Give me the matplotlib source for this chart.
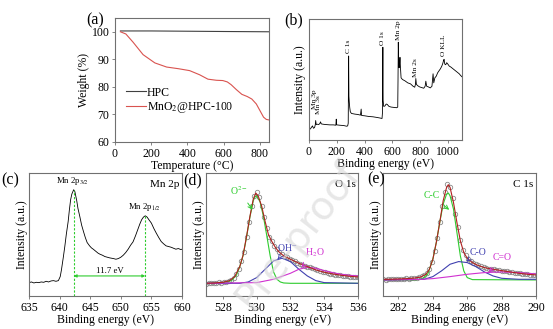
import matplotlib.pyplot as plt

plt.rcParams['font.family'] = ['Liberation Serif', 'DejaVu Serif']
plt.rcParams['mathtext.fontset'] = 'stix'
plt.rcParams['axes.edgecolor'] = '#707070'
plt.rcParams['axes.linewidth'] = 0.8
plt.rcParams['xtick.direction'] = 'out'
plt.rcParams['ytick.direction'] = 'out'
plt.rcParams['xtick.major.size'] = 2.5
plt.rcParams['ytick.major.size'] = 2.5
plt.rcParams['xtick.major.width'] = 0.6
plt.rcParams['ytick.major.width'] = 0.6
plt.rcParams['xtick.major.pad'] = 1.5
plt.rcParams['ytick.major.pad'] = 1.5

FS = 8.5                                            # tick / axis label size

# ---- (a) TGA ------------------------------------------------------------
tga_T   = [30, 60, 100, 155, 220, 285, 350, 412, 467, 513, 560, 595, 620, 641,
           670, 700, 730, 755, 780, 800, 820, 835, 850]
tga_mno = [100.0, 99.2, 96.2, 91.7, 88.7, 87.2, 86.6, 85.9, 84.4, 82.8, 82.4,
           82.3, 81.8, 80.8, 79.0, 77.3, 76.5, 75.6, 73.8, 71.4, 69.0, 68.2, 68.0]
tga_hpc_T = [30, 200, 400, 600, 850]
tga_hpc   = [100.3, 100.3, 100.2, 100.1, 100.0]

# ---- (b) survey spectrum -----------------------------------------------
sv_E = [0, 10, 18, 25, 32, 40, 45, 48, 52, 60, 70, 78, 83, 88, 100, 120, 150,
        175, 193, 196, 199, 220, 250, 270, 278, 282, 285, 287, 290, 293, 297,
        305, 330, 350, 370, 375, 378, 400, 430, 460, 490, 515, 525, 528, 531,
        533, 537, 545, 555, 562, 575, 590, 610, 630, 638, 640, 642, 644, 648,
        651, 654, 657, 662, 672, 690, 710, 730, 748, 760, 765, 768, 772, 780,
        795, 810, 825, 835, 840, 846, 858, 872, 884, 892, 897, 905, 915, 925,
        935, 945, 955, 962, 967, 971, 976, 983, 990, 998, 1008, 1020, 1035,
        1050, 1065, 1080, 1090, 1100]
sv_I = [32, 33, 38, 42, 35, 37, 45, 58, 46, 47, 46, 49, 54, 48, 47, 46, 45,
        45, 44, 62, 45, 44, 43, 41, 42, 50, 250, 130, 110, 96, 84,
        79, 77, 76, 74, 92, 73, 72, 70, 69, 67, 65, 64, 80, 276,
        118, 100, 101, 107, 106, 100, 98, 97, 96, 98, 180, 291, 240, 215,
        225, 246, 220, 185, 180, 176, 170, 167, 160, 157, 165, 183, 166, 162,
        158, 156, 154, 160, 175, 160, 158, 155, 160, 197, 170, 185, 190, 200,
        206, 212, 220, 228, 236, 240, 226, 224, 230, 226, 220, 217, 212,
        207, 202, 197, 192, 188]
sv_lbl   = ['Mn 3p', 'Mn 3s', 'C 1s', 'O 1s', 'Mn 2p', 'Mn 2s', 'O KLL']
sv_lbl_E = [36, 68, 281, 530, 640, 768, 966]
sv_lbl_I = [92, 76, 258, 282, 297, 188, 250]

# ---- (c) Mn 2p ------------------------------------------------------------
mn_E = [635.0, 635.4, 635.8, 636.2, 636.6, 637.0, 637.4, 637.8, 638.2, 638.6,
        639.0, 639.4, 639.8, 640.1, 640.3, 640.6, 640.85, 641.1, 641.4, 641.6,
        641.8, 642.0, 642.3, 642.5, 642.8, 643.0, 643.3, 643.6, 643.9, 644.2,
        644.5, 644.9, 645.2, 645.5, 645.9, 646.3, 646.6, 647.0, 647.4, 647.8,
        648.2, 648.5, 648.8, 649.2, 649.6, 650.0, 650.4, 650.8, 651.2, 651.6,
        652.0, 652.4, 652.8, 653.1, 653.4, 653.7, 654.0, 654.3, 654.6, 655.0,
        655.4, 655.8, 656.2, 656.6, 657.0, 657.4, 657.8, 658.2, 658.6, 659.0,
        659.4, 659.8, 660.0]
mn_I = [40, 42, 39, 41, 40, 42, 41, 44, 42, 45, 46, 44, 46, 58, 78, 115, 148,
        185, 223, 258, 288, 305, 318, 312, 285, 262, 238, 212, 193, 175, 160,
        150, 144, 140, 134, 128, 125, 122, 118, 116, 114, 113, 112, 110, 112,
        116, 122, 130, 140, 152, 162, 180, 200, 215, 228, 236, 240, 236, 228,
        218, 202, 188, 175, 163, 156, 150, 148, 146, 143, 140, 142, 139, 140]
mn_peaks = [642.3, 654.0]
mn_peak_I = [318, 240]
mn_split = '11.7 eV'

# ---- (d) O 1s -------------------------------------------------------------
o_E = [527.0, 527.15, 527.3, 527.45, 527.6, 527.75, 527.9, 528.05, 528.2, 528.35,
       528.5, 528.65, 528.8, 528.95, 529.1, 529.25, 529.4, 529.55, 529.7, 529.85,
       530.0, 530.15, 530.3, 530.45, 530.6, 530.75, 530.9, 531.05, 531.2, 531.35,
       531.5, 531.65, 531.8, 531.95, 532.1, 532.25, 532.4, 532.55, 532.7, 532.85,
       533.0, 533.15, 533.3, 533.45, 533.6, 533.75, 533.9, 534.05, 534.2, 534.35,
       534.5, 534.65, 534.8, 534.95, 535.1, 535.25, 535.4, 535.55, 535.7, 535.85,
       536.0]
o_I = [37, 39, 38, 40, 39, 41, 40, 42, 43, 45, 49, 55, 66, 82, 104, 133, 176,
       222, 268, 300, 312, 296, 270, 236, 202, 178, 164, 150, 140, 132, 125,
       120, 116, 111, 107, 104, 100, 97, 94, 91, 88, 86, 83, 80, 77, 75, 73,
       71, 69, 67, 66, 64, 63, 62, 61, 60, 59, 58, 58, 57, 57]
o_fit_E = [527.0, 527.5, 528.0, 528.4, 528.7, 529.0, 529.2, 529.4, 529.6, 529.8,
           529.95, 530.1, 530.3, 530.5, 530.7, 530.9, 531.1, 531.3, 531.6, 532.0,
           532.5, 533.0, 533.5, 534.0, 534.5, 535.0, 535.5, 536.0]
o_fit = [38, 39, 41, 46, 58, 88, 123, 178, 238, 290, 308, 298, 268, 223, 183,
         163, 146, 133, 120, 110, 98, 88, 78, 71, 66, 62, 59, 57]
o2_E = [527.0, 528.0, 528.5, 528.8, 529.0, 529.2, 529.4, 529.6, 529.8, 529.9,
        530.0, 530.2, 530.4, 530.6, 530.8, 531.0, 531.2, 531.4, 531.6, 532.0, 536.0]
o2_I = [38, 40, 46, 62, 88, 122, 176, 236, 285, 297, 300, 282, 238, 180, 120,
        72, 50, 42, 39, 38, 38]
oh_E = [527.0, 529.0, 529.5, 530.0, 530.5, 531.0, 531.5, 532.0, 532.5, 533.0,
        533.5, 534.0, 536.0]
oh_I = [38, 38, 42, 55, 80, 105, 113, 103, 80, 60, 46, 40, 38]
h2o_E = [527.0, 530.0, 531.0, 532.0, 532.5, 533.0, 533.5, 534.0, 534.5, 535.0,
         535.5, 536.0]
h2o_I = [38, 40, 50, 68, 80, 86, 83, 76, 70, 65, 62, 60]

# ---- (e) C 1s -------------------------------------------------------------
c_E = [281.10, 281.25, 281.40, 281.55, 281.70, 281.85, 282.00, 282.15, 282.30,
       282.45, 282.60, 282.75, 282.90, 283.05, 283.20, 283.35, 283.50, 283.65,
       283.80, 283.95, 284.10, 284.25, 284.40, 284.55, 284.70, 284.85, 285.00,
       285.15, 285.30, 285.45, 285.60, 285.75, 285.90, 286.05, 286.20, 286.35,
       286.50, 286.65, 286.80, 286.95, 287.10, 287.25, 287.40, 287.55, 287.70,
       287.85, 288.00, 288.15, 288.30, 288.45, 288.60, 288.75, 288.90, 289.05,
       289.20, 289.35, 289.50, 289.65, 289.80, 289.95]
c_I = [50, 49, 51, 50, 51, 50, 52, 51, 52, 53, 52, 54, 55, 55, 57, 59, 62, 68,
       80, 102, 135, 175, 222, 270, 310, 334, 326, 292, 246, 205, 168, 139, 122,
       111, 104, 99, 95, 92, 89, 86, 84, 82, 81, 80, 78, 77, 76, 75, 74, 73, 71,
       70, 69, 68, 67, 66, 65, 64, 64, 63]
c_fit_E = [281.1, 281.5, 282.0, 282.5, 283.0, 283.3, 283.6, 283.8, 284.0, 284.2,
           284.4, 284.6, 284.8, 284.9, 285.0, 285.2, 285.4, 285.6, 285.8, 286.0,
           286.3, 286.6, 287.0, 287.5, 288.0, 288.5, 289.0, 289.5, 290.0]
c_fit = [50, 50, 51, 52, 54, 57, 65, 80, 110, 160, 220, 285, 325, 333, 325, 280,
         220, 165, 130, 113, 100, 92, 85, 80, 76, 72, 68, 65, 63]
cc_E = [281.1, 283.0, 283.4, 283.7, 284.0, 284.2, 284.4, 284.6, 284.8, 284.9,
        285.0, 285.2, 285.4, 285.6, 285.8, 286.0, 286.3, 290.0]
cc_I = [48, 48, 52, 65, 110, 160, 220, 275, 305, 308, 300, 260, 190, 120, 75,
        55, 49, 48]
co_E = [281.1, 283.5, 284.0, 284.5, 285.0, 285.5, 286.0, 286.5, 287.0, 287.5,
        288.0, 289.0, 290.0]
co_I = [48, 50, 58, 75, 95, 103, 100, 88, 72, 60, 53, 50, 50]
cdo_E = [281.1, 283.0, 284.0, 285.0, 286.0, 287.0, 288.0, 289.0, 290.0]
cdo_I = [48, 49, 52, 58, 65, 70, 72, 70, 66]

GREEN   = '#2ecc2e'
BLUE    = '#4040b0'
MAGENTA = '#d030d0'
FITRED  = '#b02020'

fig = plt.figure(figsize=(5.53, 3.29), dpi=100)

W, H = 553.0, 329.0
def box(l, t, r, b):                                # pixel box -> axes rect
    return [l / W, 1 - b / H, (r - l) / W, (b - t) / H]

axA = fig.add_axes(box(115, 18, 269, 142))
axB = fig.add_axes(box(309, 19, 462, 140))
axC = fig.add_axes(box(29, 173, 182, 296))
axD = fig.add_axes(box(206, 173, 358, 296))
axE = fig.add_axes(box(383, 173, 536, 296))

for ax in (axA, axB, axC, axD, axE):
    ax.tick_params(labelsize=FS, colors='#707070', labelcolor='black')

# (a)
axA.plot(tga_hpc_T, tga_hpc, color='#404040', lw=0.8, label='HPC')
axA.plot(tga_T, tga_mno, color='#d9534f', lw=0.8, label='MnO$_2$@HPC-100')
axA.set_xlim(0, 850)
axA.set_ylim(60, 105)
axA.set_xticks([0, 200, 400, 600, 800])
axA.set_yticks([60, 70, 80, 90, 100])
axA.set_xlabel('Temperature (°C)', fontsize=FS, labelpad=0)
axA.set_ylabel('Weight (%)', fontsize=FS, labelpad=1)
axA.legend(frameon=False, fontsize=FS, loc='lower left', bbox_to_anchor=(0.03, 0.17),
           handlelength=1.7, handletextpad=0.1, labelspacing=0.12, borderpad=0)

# (b)
axB.plot(sv_E, sv_I, color='black', lw=0.6)
for lbl, e, i in zip(sv_lbl, sv_lbl_E, sv_lbl_I):
    axB.text(e, i, lbl, rotation=90, ha='center', va='bottom', fontsize=5.3)
axB.set_xlim(0, 1100)
axB.set_ylim(0, 360)
axB.set_xticks([0, 200, 400, 600, 800, 1000])
axB.set_yticks([])
axB.set_xlabel('Binding energy (eV)', fontsize=FS, labelpad=0)
axB.set_ylabel('Intensity (a.u.)', fontsize=FS, labelpad=2)

# (c)
axC.plot(mn_E, mn_I, color='black', lw=0.6)
for e, i in zip(mn_peaks, mn_peak_I):
    axC.plot([e, e], [0, i], color=GREEN, lw=0.8, ls=(0, (2, 1.5)))
axC.annotate('', xy=(mn_peaks[0], 60), xytext=(mn_peaks[1], 60),
             arrowprops=dict(arrowstyle='<|-|>', color=GREEN, lw=0.8,
                             mutation_scale=4, shrinkA=0, shrinkB=0))
axC.text(sum(mn_peaks) / 2, 64, mn_split, ha='center', va='bottom', fontsize=6.3)
axC.text(642.1, 326, 'Mn 2p$_{3/2}$', ha='center', va='bottom', fontsize=6.3)
axC.text(653.9, 248, 'Mn 2p$_{1/2}$', ha='center', va='bottom', fontsize=6.3)
axC.text(0.985, 0.94, 'Mn 2p', transform=axC.transAxes, ha='right', va='top', fontsize=8)
axC.set_xlim(635, 660)
axC.set_ylim(0, 368)
axC.set_xticks([635, 640, 645, 650, 655, 660])
axC.set_yticks([])
axC.set_xlabel('Binding energy (eV)', fontsize=FS, labelpad=0)
axC.set_ylabel('Intensity (a.u.)', fontsize=FS, labelpad=1)

# (d)
axD.plot(o_E, o_I, 'o', ms=3.2, mfc='none', mec='#8a8a8a', mew=0.6)
axD.plot(o2_E, o2_I, color=GREEN, lw=0.8)
axD.plot(oh_E, oh_I, color=BLUE, lw=0.8)
axD.plot(h2o_E, h2o_I, color=MAGENTA, lw=0.8)
axD.plot(o_fit_E, o_fit, color=FITRED, lw=0.8)
axD.annotate('O$^{2-}$', xy=(529.75, 258), xytext=(528.95, 316), color=GREEN,
             fontsize=7, ha='center', va='center',
             arrowprops=dict(arrowstyle='->', color=GREEN, lw=0.7, shrinkA=3, shrinkB=0))
axD.annotate('OH$^{-}$', xy=(531.25, 110), xytext=(531.8, 146), color=BLUE,
             fontsize=7, ha='center', va='center',
             arrowprops=dict(arrowstyle='->', color=BLUE, lw=0.7, shrinkA=3, shrinkB=0))
axD.annotate('H$_2$O', xy=(532.65, 86), xytext=(533.45, 128), color=MAGENTA,
             fontsize=7, ha='center', va='center',
             arrowprops=dict(arrowstyle='->', color=MAGENTA, lw=0.7, shrinkA=3, shrinkB=0))
axD.text(0.985, 0.94, 'O 1s', transform=axD.transAxes, ha='right', va='top', fontsize=8)
axD.set_xlim(527, 536)
axD.set_ylim(0, 368)
axD.set_xticks([528, 530, 532, 534, 536])
axD.set_yticks([])
axD.set_xlabel('Binding energy (eV)', fontsize=FS, labelpad=0)
axD.set_ylabel('Intensity (a.u.)', fontsize=FS, labelpad=1)

# (e)
axE.plot(c_E, c_I, 'o', ms=3.2, mfc='none', mec='#8a8a8a', mew=0.6)
axE.plot(cc_E, cc_I, color=GREEN, lw=0.8)
axE.plot(co_E, co_I, color=BLUE, lw=0.8)
axE.plot(cdo_E, cdo_I, color=MAGENTA, lw=0.8)
axE.plot(c_fit_E, c_fit, color=FITRED, lw=0.8)
axE.annotate('C-C', xy=(284.95, 258), xytext=(283.95, 300), color=GREEN,
             fontsize=7, ha='center', va='center',
             arrowprops=dict(arrowstyle='->', color=GREEN, lw=0.7, shrinkA=3, shrinkB=0))
axE.annotate('C-O', xy=(285.95, 103), xytext=(286.6, 130), color=BLUE,
             fontsize=7, ha='center', va='center',
             arrowprops=dict(arrowstyle='->', color=BLUE, lw=0.7, shrinkA=3, shrinkB=0))
axE.annotate('C=O', xy=(287.25, 70), xytext=(288.05, 115), color=MAGENTA,
             fontsize=7, ha='center', va='center',
             arrowprops=dict(arrowstyle='->', color=MAGENTA, lw=0.7, shrinkA=3, shrinkB=0))
axE.text(0.985, 0.94, 'C 1s', transform=axE.transAxes, ha='right', va='top', fontsize=8)
axE.set_xlim(281.1, 290)
axE.set_ylim(0, 368)
axE.set_xticks([282, 284, 286, 288, 290])
axE.set_yticks([])
axE.set_xlabel('Binding energy (eV)', fontsize=FS, labelpad=0)
axE.set_ylabel('Intensity (a.u.)', fontsize=FS, labelpad=1)

# panel letters
for lbl, x, y in [('(a)', 86, 20), ('(b)', 284, 20), ('(c)', 1, 180),
                  ('(d)', 183, 180), ('(e)', 367, 179)]:
    fig.text(x / W, 1 - y / H, lbl, fontsize=11.5, ha='left', va='center')

# journal watermark
fig.text(298 / W, 1 - 236 / H, 'Pre-proof', family='DejaVu Sans', fontsize=28,
         rotation=52, color='#d8d8d8', alpha=0.6, ha='center', va='center', zorder=10)

fig.savefig('out.png', dpi=100)
